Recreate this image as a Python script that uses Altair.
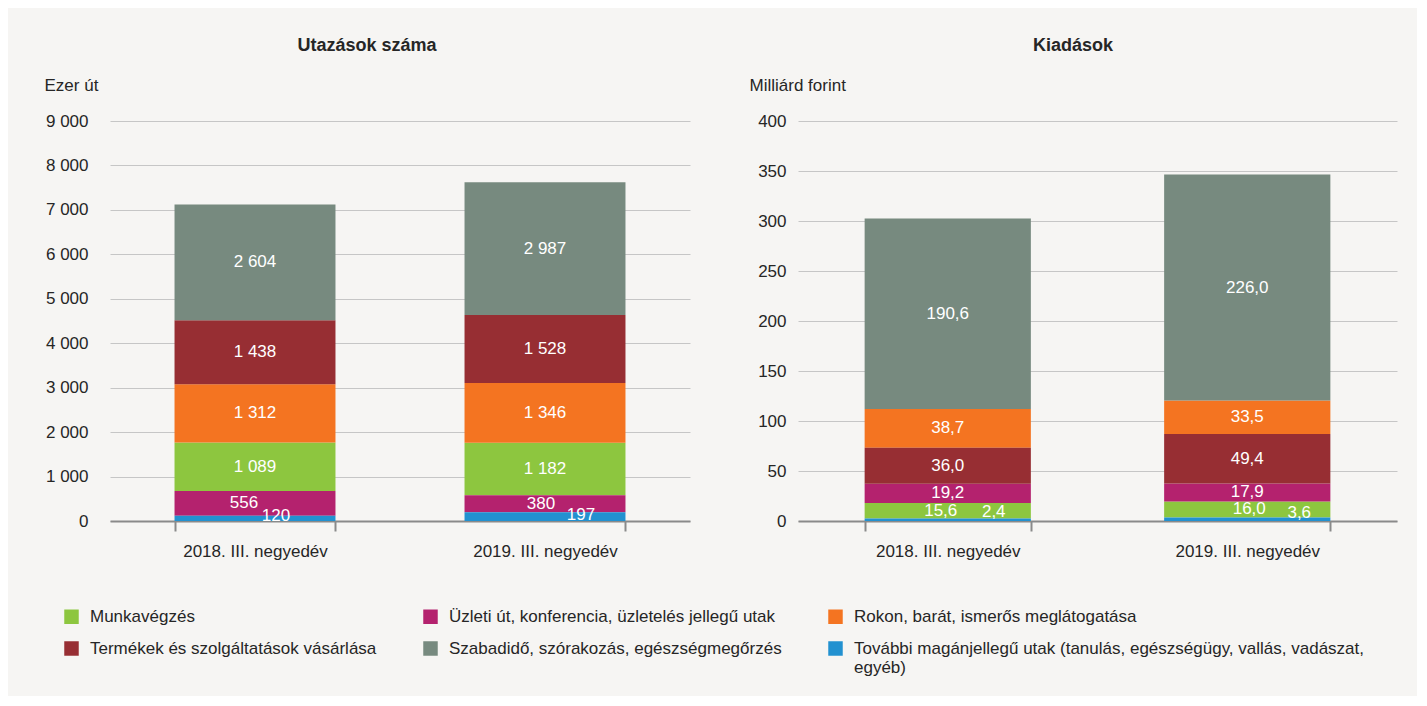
import altair as alt
import pandas as pd

categories = [
    "Munkavégzés",
    "Üzleti út, konferencia, üzletelés jellegű utak",
    "Rokon, barát, ismerős meglátogatása",
    "Termékek és szolgáltatások vásárlása",
    "Szabadidő, szórakozás, egészségmegőrzés",
    "További magánjellegű utak (tanulás, egészségügy, vallás, vadászat, egyéb)",
]
colors = ["#8dc63f", "#b4226e", "#f47421", "#972e33", "#778a7f", "#2291d0"]
periods = ["2018. III. negyedév", "2019. III. negyedév"]

trips_2018 = [1089, 556, 1312, 1438, 2604, 120]
trips_2019 = [1182, 380, 1346, 1528, 2987, 197]
spend_2018 = [15.6, 19.2, 38.7, 36.0, 190.6, 2.4]
spend_2019 = [16.0, 17.9, 33.5, 49.4, 226.0, 3.6]

# stacking order, bottom to top (indices into categories)
trips_stack = [5, 1, 0, 2, 3, 4]
spend_stack = [5, 0, 1, 3, 2, 4]

# label nudges (pixels) for the small segments near the axis
trips_nudge = {
    (0, 1): (-11, 0), (0, 5): (21, -2),
    (1, 1): (-4, 0), (1, 5): (36, -2),
}
spend_nudge = {
    (0, 0): (-7, 0), (0, 5): (46, -8),
    (1, 0): (2, 0), (1, 5): (52, -6),
}

FONT = "Liberation Sans, Arial, sans-serif"
FS = 17
TEXT = "#262626"
BG = "#f6f5f3"


def build_df(vals_by_period, stack, nudge):
    rows = []
    for pi, vals in enumerate(vals_by_period):
        for ci, v in enumerate(vals):
            dx, dy = nudge.get((pi, ci), (0, 0))
            rows.append({
                "period": periods[pi],
                "category": categories[ci],
                "value": v,
                "order": stack.index(ci),
                "nudge": f"{dx}_{dy}",
            })
    return pd.DataFrame(rows)


def panel(df, title, ytitle, ymax, ystep, width, fmt, label_pad, title_x):
    base = alt.Chart(df).transform_stack(
        stack="value", groupby=["period"], sort=[alt.SortField("order", "ascending")],
        as_=["y0", "y1"]
    ).transform_calculate(mid="(datum.y0 + datum.y1) / 2")

    x = alt.X(
        "period:N", sort=periods, title=None,
        scale=alt.Scale(paddingInner=0.445, paddingOuter=0.2225),
        axis=alt.Axis(
            labelAngle=0, tickBand="extent", domainColor="#8a8a8a", domainWidth=2,
            tickColor="#8a8a8a", tickWidth=2, tickSize=10, labelPadding=12,
            labelFont=FONT, labelFontSize=FS, labelColor=TEXT, grid=False,
        ),
    )
    y = alt.Y(
        "y0:Q",
        scale=alt.Scale(domain=[0, ymax], nice=False),
        axis=alt.Axis(
            values=list(range(0, ymax + 1, ystep)), format=",.0f",
            title=ytitle, titleAngle=0, titleX=title_x, titleY=-36,
            titleAlign="left", titleBaseline="middle", titleFont=FONT,
            titleFontSize=FS, titleFontWeight="normal", titleColor=TEXT,
            domain=False, ticks=False, labelPadding=label_pad,
            labelFont=FONT, labelFontSize=FS, labelColor=TEXT,
            gridColor="#c6c6c6", gridWidth=1,
        ),
    )
    bars = base.mark_bar().encode(
        x=x, y=y, y2="y1:Q",
        color=alt.Color(
            "category:N",
            scale=alt.Scale(domain=categories, range=colors),
            legend=alt.Legend(
                title=None, orient="none", direction="horizontal",
                legendX=-47, legendY=487, columns=3,
                symbolType="square", symbolSize=210, symbolStrokeWidth=0,
                labelFont=FONT, labelFontSize=FS, labelColor=TEXT,
                labelLimit=1000, labelOffset=10, columnPadding=45, rowPadding=14,
                labelExpr=(
                    "datum.label == '" + categories[5] + "' ? "
                    "['További magánjellegű utak (tanulás, egészségügy, vallás, vadászat,', 'egyéb)']"
                    " : datum.label"
                ),
            ),
        ),
    )
    layers = [bars]
    for key in sorted(df["nudge"].unique()):
        dx, dy = (int(s) for s in key.split("_"))
        layers.append(
            base.transform_filter(alt.datum.nudge == key)
            .mark_text(color="white", font=FONT, fontSize=FS, dx=dx, dy=dy, baseline="middle")
            .encode(x=alt.X("period:N", sort=periods), y="mid:Q",
                    text=alt.Text("value:Q", format=fmt))
        )
    return alt.layer(*layers).properties(
        width=width, height=400,
        title=alt.Title(title, font=FONT, fontSize=FS + 1, fontWeight="bold", color=TEXT,
                        offset=21, frame="bounds", anchor="middle"),
    )


trips_df = build_df([trips_2018, trips_2019], trips_stack, trips_nudge)
spend_df = build_df([spend_2018, spend_2019], spend_stack, spend_nudge)

left = panel(trips_df, "Utazások száma", "Ezer út", 9000, 1000, 580, ",.0f", 22, -66)
right = panel(spend_df, "Kiadások", "Milliárd forint", 400, 50, 599, ".1f", 12, -49)

chart = alt.hconcat(left, right, spacing=59).properties(
    padding={"left": 36, "top": 29, "right": 20, "bottom": 20},
    background=BG,
).configure_view(stroke=None)

chart.save(
    "out.html",
    embed_options={
        "renderer": "svg", "actions": False,
        "formatLocale": {"decimal": ",", "thousands": " ", "grouping": [3], "currency": ["", " Ft"]},
    },
)
